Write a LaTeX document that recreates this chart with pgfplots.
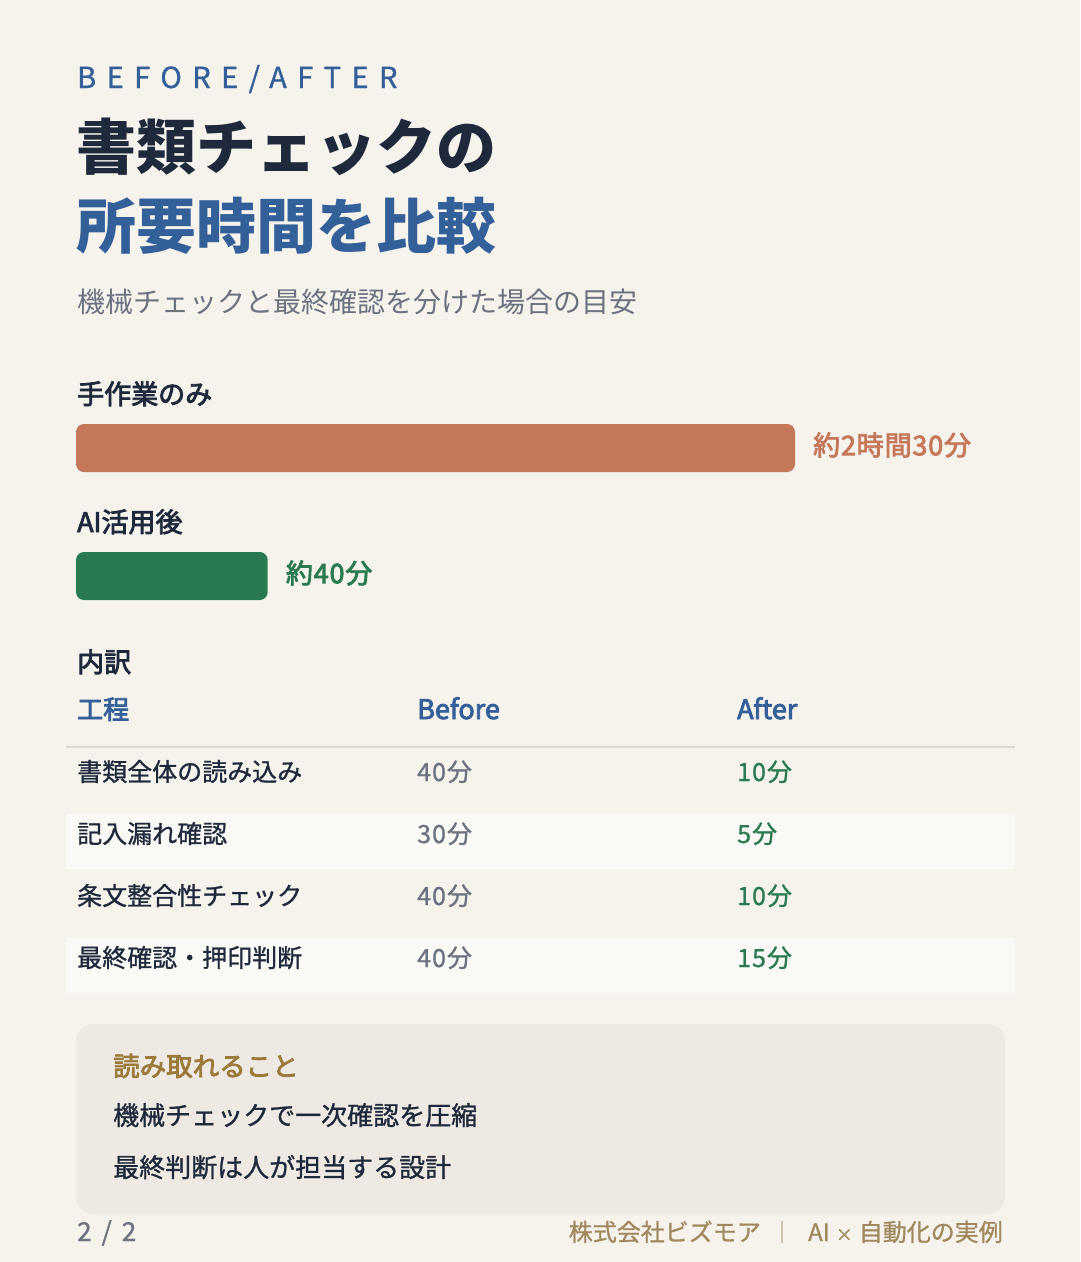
\documentclass[border=0pt]{standalone}
\usepackage{pgfplots}
\pgfplotsset{compat=1.18}
\usepackage{fontspec}
\setmainfont{Noto Sans CJK JP}
\newfontfamily\jp{Noto Sans CJK JP}
\newfontfamily\jpm[FakeBold=3]{Noto Sans CJK JP}
\newfontfamily\jpl[FakeBold=1]{Noto Sans CJK JP}
\definecolor{bg}{HTML}{F6F3ED}
\definecolor{navy}{HTML}{1E293B}
\definecolor{blue}{HTML}{34609A}
\definecolor{gray}{HTML}{6B7280}
\definecolor{barB}{HTML}{C5775A}
\definecolor{barA}{HTML}{287A50}
\definecolor{rowl}{HTML}{FAF9F6}
\definecolor{note}{HTML}{EEEAE3}
\definecolor{gold}{HTML}{9C7A3C}
\definecolor{foot}{HTML}{A0895E}
\definecolor{rule}{HTML}{DCD8D0}
\newcommand{\fs}[1]{\fontsize{#1}{#1}\selectfont}
\begin{document}
\begin{tikzpicture}
\begin{scope}[x=1pt,y=-1pt]
\fill[bg] (0,0) rectangle (1080,1262);
% header
\node[anchor=base west,inner sep=0,text=blue] at (77,88) {\jpl\fs{29}\addfontfeatures{LetterSpace=36}BEFORE/AFTER};
\node[anchor=base west,inner sep=0,text=navy] at (76,169) {\jp\bfseries\fs{60}書類チェックの};
\node[anchor=base west,inner sep=0,text=blue] at (76,248) {\jp\bfseries\fs{60}所要時間を比較};
\node[anchor=base west,inner sep=0,text=gray] at (77,312.6) {\jp\fs{28}機械チェックと最終確認を分けた場合の目安};
% bar labels
\node[anchor=base west,inner sep=0,text=navy] at (77,404) {\jpm\fs{27}手作業のみ};
\node[anchor=base west,inner sep=0,text=navy] at (77,532) {\jpm\fs{27}AI活用後};
% table
\node[anchor=base west,inner sep=0,text=navy] at (77,672) {\jpm\fs{27}内訳};
\node[anchor=base west,inner sep=0,text=blue] at (77,719) {\jpm\fs{26}工程};
\node[anchor=base west,inner sep=0,text=blue] at (417,719) {\jpm\fs{27}Before};
\node[anchor=base west,inner sep=0,text=blue] at (737,719) {\jpm\fs{27}After};
\fill[rowl] (66,814) rectangle (1015,869);
\fill[rowl] (66,938) rectangle (1015,993);
\draw[rule,line width=2pt] (66,747) -- (1015,747);
\foreach \y/\a/\b/\c in {781/書類全体の読み込み/40分/10分, 843/記入漏れ確認/30分/5分, 905/条文整合性チェック/40分/10分, 967/最終確認・押印判断/40分/15分}{
  \node[anchor=base west,inner sep=0,text=navy] at (77,\y) {\jpl\fs{25}\a};
  \node[anchor=base west,inner sep=0,text=gray] at (417,\y) {\jpl\fs{25}\addfontfeatures{LetterSpace=4}\b};
  \node[anchor=base west,inner sep=0,text=barA] at (737,\y) {\jpl\fs{25}\addfontfeatures{LetterSpace=4}\c};
}
% note box
\fill[note,rounded corners=17pt] (76,1024) rectangle (1005,1214);
\node[anchor=base west,inner sep=0,text=gold] at (113,1076) {\jpm\fs{26.5}読み取れること};
\node[anchor=base west,inner sep=0,text=navy] at (113,1125) {\jpl\fs{26}機械チェックで一次確認を圧縮};
\node[anchor=base west,inner sep=0,text=navy] at (113,1177) {\jpl\fs{26}最終判断は人が担当する設計};
% footer
\node[anchor=base west,inner sep=0,text=gray] at (77,1241) {\jpl\fs{26}2\hspace{10pt}/\hspace{10pt}2};
\node[anchor=base east,inner sep=0,text=foot] at (1003,1241) {\jpl\fs{24}AI\hspace{6pt}{\fs{17}×}\hspace{6pt}自動化の実例};
\node[anchor=base east,inner sep=0,text=foot] at (761,1241) {\jpl\fs{24}株式会社ビズモア};
\draw[foot!50,line width=1.2pt] (782,1221) -- (782,1243);
\end{scope}
\begin{axis}[at={(76pt,-600pt)}, anchor=south west, scale only axis,
  width=719pt, height=176pt, xmin=0, xmax=150, ymin=-0.1875, ymax=1.1875,
  y dir=reverse, axis lines=none, xbar, bar width=48pt, bar shift=0pt, clip=false,
  nodes near coords, every node near coord/.append style={anchor=west, inner sep=0pt, xshift=18pt, yshift=3pt}]
\addplot[fill=barB, draw=none, rounded corners=8pt, nodes near coords={\jpm\fs{27}\addfontfeatures{LetterSpace=3}約2時間30分}, every node near coord/.append style={text=barB}] coordinates {(150,0)};
\addplot[fill=barA, draw=none, rounded corners=8pt, nodes near coords={\jpm\fs{27}\addfontfeatures{LetterSpace=3}約40分}, every node near coord/.append style={text=barA}] coordinates {(40,1)};
\end{axis}
\end{tikzpicture}
\end{document}
